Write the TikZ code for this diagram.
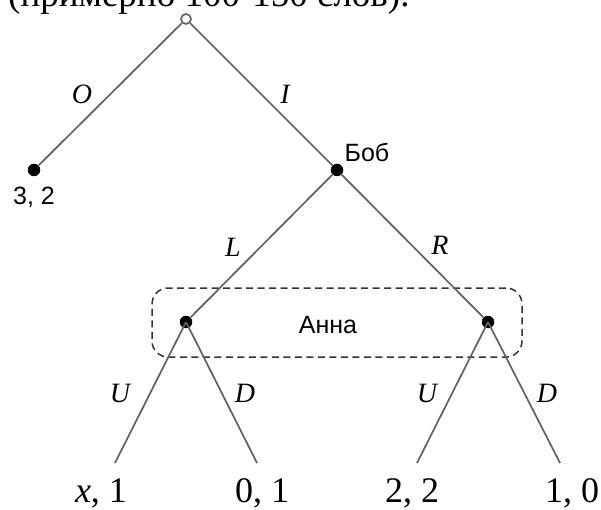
\documentclass[tikz,border=0pt]{standalone}
\usepackage{fontspec}
\setmainfont{Liberation Serif}
\newfontfamily\labelfont{Liberation Sans}
\begin{document}
\begin{tikzpicture}[x=1pt,y=-1pt,
  edge/.style={draw=black!62, line width=1.7pt},
  dotnode/.style={circle, fill=black, inner sep=0pt, minimum size=12.5pt},
  rootnode/.style={circle, draw=black!60, fill=white, line width=1.7pt, inner sep=0pt, minimum size=10pt},
  mv/.style={font=\fontsize{28}{28}\selectfont\itshape, inner sep=0pt},
  pl/.style={font=\labelfont\fontsize{25}{25}\selectfont, inner sep=0pt},
  pay/.style={font=\fontsize{36}{36}\selectfont, inner sep=0pt, anchor=base},
  infoset/.style={draw=black!80, dash pattern=on 7pt off 4.5pt, rounded corners=16pt, line width=1.5pt, minimum width=370pt, minimum height=69pt}
]
\useasboundingbox (0,0) rectangle (601,510);
\clip (0,0) rectangle (601,510);
\node[font=\fontsize{37}{37}\selectfont, anchor=base west, inner sep=0pt] (top) at (8,7) {(примерно 100-150 слов).};

% information set
\node[infoset] (iset) at (337,322.5) {};
\node[pl] (anna) at (328,325) {Анна};

% nodes
\node[rootnode] (r) at (186,19) {};
\node[dotnode] (o) at (34,170) {};
\node[dotnode] (b) at (337,170) {};
\node[dotnode] (al) at (186,322) {};
\node[dotnode] (ar) at (488,322) {};
\coordinate (l1) at (115,463);
\coordinate (l2) at (257,463);
\coordinate (l3) at (417,463);
\coordinate (l4) at (560,463);

% edges
\draw[edge] (r) -- (o);
\draw[edge] (r) -- (b);
\draw[edge] (b) -- (al);
\draw[edge] (b) -- (ar);
\draw[edge] (al.center) -- (l1);
\draw[edge] (al.center) -- (l2);
\draw[edge] (ar.center) -- (l3);
\draw[edge] (ar.center) -- (l4);

% move labels
\node[mv] (mO) at (82,94) {O};
\node[mv] (mI) at (285,94) {I};
\node[mv] (mL) at (233,247) {L};
\node[mv] (mR) at (440,245) {R};
\node[mv] (mU1) at (120,393) {U};
\node[mv] (mD1) at (245,393) {D};
\node[mv] (mU2) at (427,393) {U};
\node[mv] (mD2) at (547,393) {D};

% player labels
\node[pl] (bob) at (367,152) {Боб};
\node[pl] (p32) at (34,197) {3, 2};

% payoffs
\node[pay] (p1) at (101,502) {\textit{x}, 1};
\node[pay] (p2) at (262,502) {0, 1};
\node[pay] (p3) at (412,502) {2, 2};
\node[pay] (p4) at (572,502) {1, 0};
\end{tikzpicture}
\end{document}
